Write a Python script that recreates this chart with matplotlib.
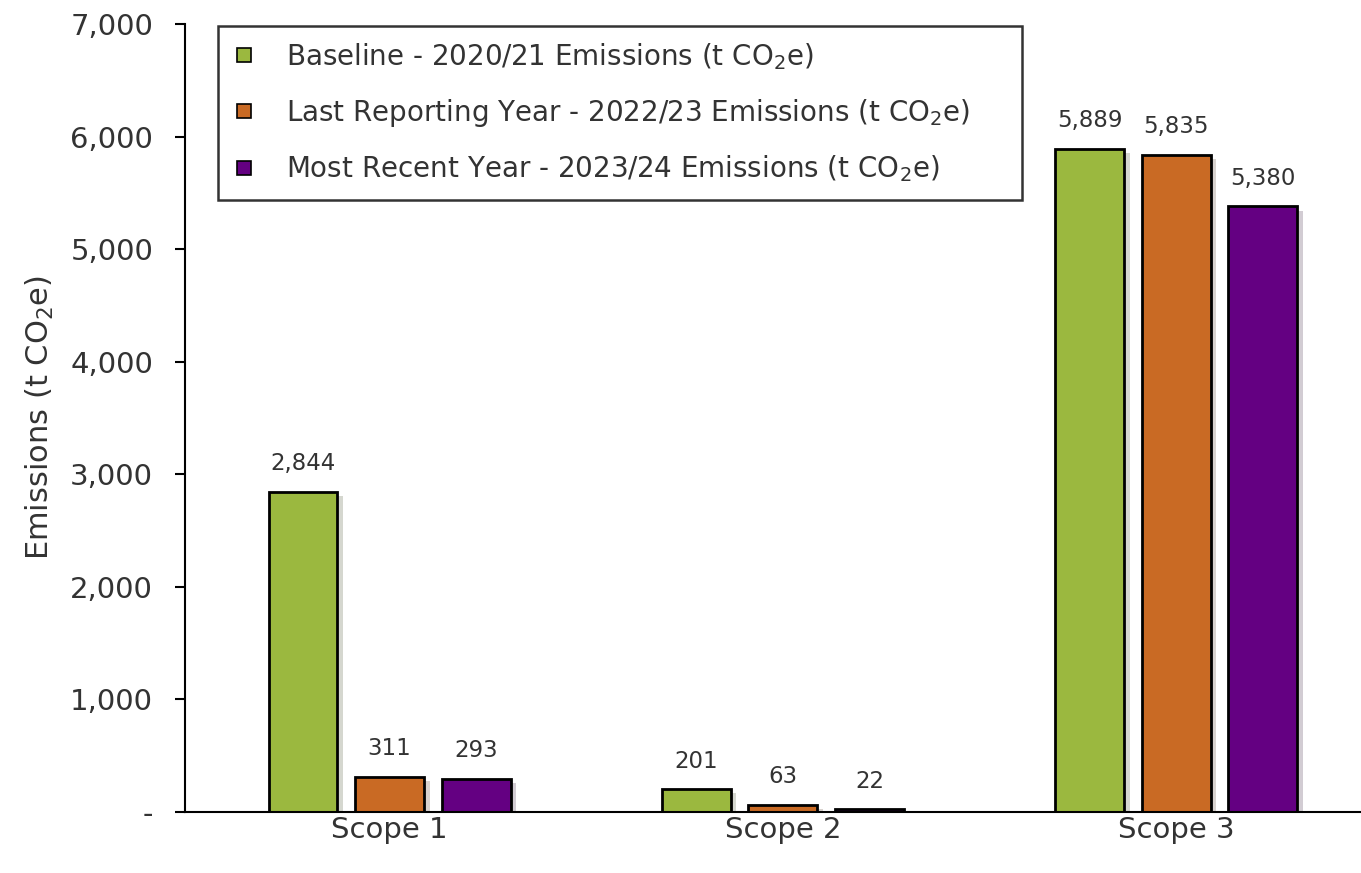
import matplotlib.pyplot as plt
import matplotlib.patheffects as pe
from matplotlib.ticker import FuncFormatter
from matplotlib.lines import Line2D
import numpy as np

plt.rcParams['font.family'] = ['DejaVu Sans']

# Data
scopes = ['Scope 1', 'Scope 2', 'Scope 3']
series_names = ['Baseline - 2020/21 Emissions (t CO$_2$e)',
                'Last Reporting Year - 2022/23 Emissions (t CO$_2$e)',
                'Most Recent Year - 2023/24 Emissions (t CO$_2$e)']
baseline = [2844, 201, 5889]
last_year = [311, 63, 5835]
recent_year = [293, 22, 5380]
colors = ['#9bb83f', '#c96a24', '#640082']

fig = plt.figure(figsize=(13.61, 8.73), dpi=100)
ax = fig.add_axes([0.136, 0.07, 0.864, 0.9025])

x = np.arange(len(scopes))
width = 0.175
offsets = [-0.22, 0, 0.22]
shadow = [pe.SimplePatchShadow(offset=(4, -3), alpha=0.2), pe.Normal()]

for vals, name, c, off in zip([baseline, last_year, recent_year], series_names, colors, offsets):
    bars = ax.bar(x + off, vals, width, color=c, edgecolor='black', linewidth=2,
                  label=name, path_effects=shadow)
    for b, v in zip(bars, vals):
        ax.annotate(f'{v:,}', (b.get_x() + b.get_width() / 2, v),
                    xytext=(0, 12), textcoords='offset points',
                    ha='center', va='bottom', fontsize=16.5, color='#333333')

ax.set_xlim(-0.52, 2.47)
ax.set_ylim(0, 7000)
ax.set_yticks(range(0, 7001, 1000))
ax.yaxis.set_major_formatter(FuncFormatter(lambda v, p: '-' if v == 0 else f'{int(v):,}'))
ax.set_xticks(x)
ax.set_xticklabels(scopes)
ax.tick_params(axis='y', labelsize=21, length=7, width=1.5, colors='black', labelcolor='#333333', pad=16)
ax.tick_params(axis='x', labelsize=21, length=0, pad=3, labelcolor='#333333')
ax.set_ylabel('Emissions (t CO$_2$e)', fontsize=22, color='#333333', labelpad=10)

for s in ['top', 'right']:
    ax.spines[s].set_visible(False)
ax.spines['left'].set_linewidth(1.5)
ax.spines['bottom'].set_linewidth(1.5)

handles, labels = ax.get_legend_handles_labels()
h = [Line2D([], [], marker='s', linestyle='none', markersize=10,
            markerfacecolor=c, markeredgecolor='black', markeredgewidth=1.2) for c in colors]
leg = ax.legend(h, labels, loc='upper left', bbox_to_anchor=(0.028, 0.85, 0.684, 0.148),
                mode='expand', fontsize=20, frameon=True, fancybox=False, edgecolor='black',
                handlelength=0.8, handletextpad=1.1, labelspacing=0.9,
                borderpad=0.55, borderaxespad=0, labelcolor='#333333')
leg.get_frame().set_linewidth(1.8)

fig.savefig('out.png', dpi=100)
